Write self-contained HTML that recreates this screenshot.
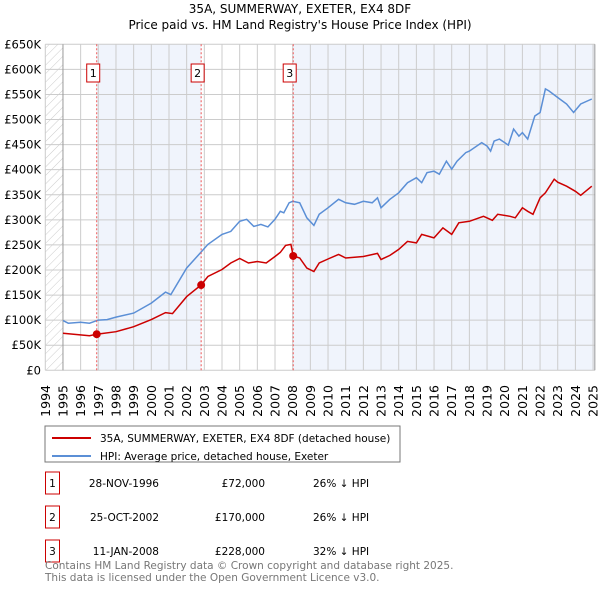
<!DOCTYPE html>
<html><head><meta charset="utf-8">
<style>
body{margin:0;background:#fff;font-family:"Liberation Sans","DejaVu Sans",sans-serif;}
svg text{font-family:"DejaVu Sans","Liberation Sans",sans-serif;}
</style></head>
<body>
<svg id="chart" width="600" height="590" viewBox="0 0 600 590" xmlns="http://www.w3.org/2000/svg">
<defs>
<pattern id="hatch" width="6" height="6" patternUnits="userSpaceOnUse" patternTransform="rotate(45)">
<line x1="0" y1="0" x2="0" y2="6" stroke="#ccc" stroke-width="1"/>
</pattern>
</defs>
<text x="300" y="13" text-anchor="middle" font-size="12">35A, SUMMERWAY, EXETER, EX4 8DF</text>
<text x="300" y="29" text-anchor="middle" font-size="12">Price paid vs. HM Land Registry's House Price Index (HPI)</text>
<g id="bg"></g>
<g id="grid"></g>
<g id="axes"></g>
<g id="series"></g>
<g id="markers"></g>
<rect x="45" y="426" width="355" height="36" fill="#fff" stroke="#777"/>
<line x1="52" y1="438" x2="91" y2="438" stroke="#cc0000" stroke-width="2"/>
<text x="100" y="442" font-size="10.5">35A, SUMMERWAY, EXETER, EX4 8DF (detached house)</text>
<line x1="52" y1="456" x2="91" y2="456" stroke="#5b8fd6" stroke-width="2"/>
<text x="100" y="460" font-size="10.5">HPI: Average price, detached house, Exeter</text>
<g id="table" font-size="10.5"></g>
<text x="45" y="569" font-size="10.5" fill="#777">Contains HM Land Registry data © Crown copyright and database right 2025.</text>
<text x="45" y="581" font-size="10.5" fill="#777">This data is licensed under the Open Government Licence v3.0.</text>
</svg>
<script>
const hpiYears=[1995,1995.3,1996,1996.5,1997,1997.5,1998,1999,2000,2000.8,2001.1,2002,2002.8,2003.2,2004,2004.5,2005,2005.4,2005.8,2006.2,2006.6,2007,2007.3,2007.5,2007.8,2008,2008.4,2008.8,2009.2,2009.5,2010,2010.6,2011,2011.5,2012,2012.5,2012.8,2013,2013.5,2014,2014.5,2015,2015.3,2015.6,2016,2016.3,2016.7,2017,2017.3,2017.8,2018,2018.7,2019,2019.2,2019.4,2019.7,2020,2020.2,2020.5,2020.8,2021,2021.3,2021.7,2022,2022.3,2022.5,2023,2023.5,2023.9,2024.3,2024.93];
const hpiValues=[99,94,96,94,100,101,106,114,134,156,151,204,235,251,271,277,297,301,287,291,286,301,317,314,334,337,334,304,289,311,324,341,334,331,337,334,344,324,341,354,374,384,374,394,397,391,417,401,417,434,437,454,447,437,457,461,454,449,481,467,474,461,507,514,561,557,544,531,514,531,541];
const ppYears=[1995,1996.5,1996.91,1998,1999,2000,2000.8,2001.2,2002,2002.82,2003.2,2004,2004.5,2005,2005.5,2006,2006.5,2007,2007.3,2007.6,2007.9,2008.03,2008.4,2008.8,2009.2,2009.5,2010,2010.6,2011,2012,2012.8,2013,2013.5,2014,2014.5,2015,2015.3,2016,2016.5,2017,2017.4,2018,2018.8,2019.3,2019.6,2020.3,2020.6,2021,2021.3,2021.6,2022,2022.3,2022.8,2023,2023.5,2024,2024.3,2024.93];
const ppValues=[74,69,72,77,87,101,115,113,147,170,187,201,214,223,214,217,214,227,235,249,251,228,224,204,197,214,222,231,224,227,233,221,229,241,257,254,271,264,284,271,294,297,307,299,311,307,304,324,317,311,344,354,381,375,367,357,349,367];
const saleYears=[1996.91,2002.82,2008.03];
const saleValues=[72,170,228];
const saleLabels=["1","2","3"];
const saleDates=["28-NOV-1996","25-OCT-2002","11-JAN-2008"];
const salePrices=["£72,000","£170,000","£228,000"];
const saleDiffs=["26% ↓ HPI","26% ↓ HPI","32% ↓ HPI"];
const yTicks=[0,50,100,150,200,250,300,350,400,450,500,550,600,650];
const yTickLabels=["£0","£50K","£100K","£150K","£200K","£250K","£300K","£350K","£400K","£450K","£500K","£550K","£600K","£650K"];
const xTicks=[1994,1995,1996,1997,1998,1999,2000,2001,2002,2003,2004,2005,2006,2007,2008,2009,2010,2011,2012,2013,2014,2015,2016,2017,2018,2019,2020,2021,2022,2023,2024,2025];

const NS="http://www.w3.org/2000/svg";
const X0=45.3,XW=17.67,Y0=370.3,YH=326/650;
const xs=y=>X0+(y-1994)*XW;
const ys=v=>Y0-v*YH;
function mk(tag,attrs,parent){const e=document.createElementNS(NS,tag);for(const k in attrs)e.setAttribute(k,attrs[k]);parent.appendChild(e);return e;}
const bgG=document.getElementById('bg'),gridG=document.getElementById('grid'),axesG=document.getElementById('axes'),seriesG=document.getElementById('series'),markersG=document.getElementById('markers'),tableG=document.getElementById('table');
const yTop=ys(650),xRight=xs(2025.1);
let r=mk('rect',{x:X0,y:yTop,width:xs(1995)-X0,height:Y0-yTop,fill:'url(#hatch)'},bgG);


r=mk('rect',{x:xs(saleYears[0]),y:yTop,width:xs(saleYears[1])-xs(saleYears[0]),height:Y0-yTop,fill:'#f0f4fc'},bgG);


r=mk('rect',{x:xs(saleYears[2]),y:yTop,width:xRight-xs(saleYears[2]),height:Y0-yTop,fill:'#f0f4fc'},bgG);


yTicks.forEach((v,i)=>{
 let l=mk('line',{x1:X0,x2:xRight,y1:ys(v),y2:ys(v),stroke:'#cccccc','stroke-width':1},gridG);
 
 
 let t=mk('text',{x:41,y:ys(v)+4,'text-anchor':'end','font-size':11.5},axesG);
 t.textContent=yTickLabels[i];
 
 
});
xTicks.forEach(y=>{
 let l=mk('line',{x1:xs(y),x2:xs(y),y1:yTop,y2:Y0,stroke:y===1995?'#999':'#cccccc','stroke-width':1},gridG);
 
 
 let t=mk('text',{x:0,y:0,'text-anchor':'end','font-size':12.5,transform:`translate(${xs(y)+4.5},385) rotate(-90)`},axesG);
 t.textContent=String(y);
 
 
});
const ra=mk('line',{x1:xRight,x2:xRight,y1:yTop,y2:Y0,stroke:'#999'},axesG);


function pathD(xa,va){return xa.map((y,i)=>(i?'L':'M')+xs(y).toFixed(1)+','+ys(va[i]).toFixed(1)).join('');}
let p=mk('path',{d:pathD(hpiYears,hpiValues),fill:'none',stroke:'#5b8fd6','stroke-width':1.5},seriesG);


p=mk('path',{d:pathD(ppYears,ppValues),fill:'none',stroke:'#cc0000','stroke-width':1.5},seriesG);


saleYears.forEach((y,i)=>{
 let l=mk('line',{x1:xs(y),x2:xs(y),y1:yTop,y2:Y0,stroke:'#e55','stroke-width':1,'stroke-dasharray':'2,2'},markersG);
 
 
 let c=mk('circle',{cx:xs(y),cy:ys(saleValues[i]),r:4,fill:'#cc0000'},markersG);
 
 
 let b=mk('rect',{x:xs(y)-10,y:64,width:13,height:18,fill:'#fff',stroke:'#cc0000'},markersG);
 
 
 let t=mk('text',{x:xs(y)-3.5,y:77,'text-anchor':'middle','font-size':11},markersG);
 t.textContent=saleLabels[i];
 
 
 const ry=[483,517,551][i];
 let tb=mk('rect',{x:45.5,y:ry-11,width:14,height:22,fill:'#fff',stroke:'#cc0000'},tableG);
 
 
 let tt=mk('text',{x:52.5,y:ry+4,'text-anchor':'middle'},tableG);
 tt.textContent=saleLabels[i];
 
 
 let d=mk('text',{x:159,y:ry+4,'text-anchor':'end'},tableG);
 d.textContent=saleDates[i];
 
 
 let pr=mk('text',{x:265,y:ry+4,'text-anchor':'end'},tableG);
 pr.textContent=salePrices[i];
 
 
 let df=mk('text',{x:313,y:ry+4},tableG);
 df.textContent=saleDiffs[i];
 
 
});
</script>
</body></html>
